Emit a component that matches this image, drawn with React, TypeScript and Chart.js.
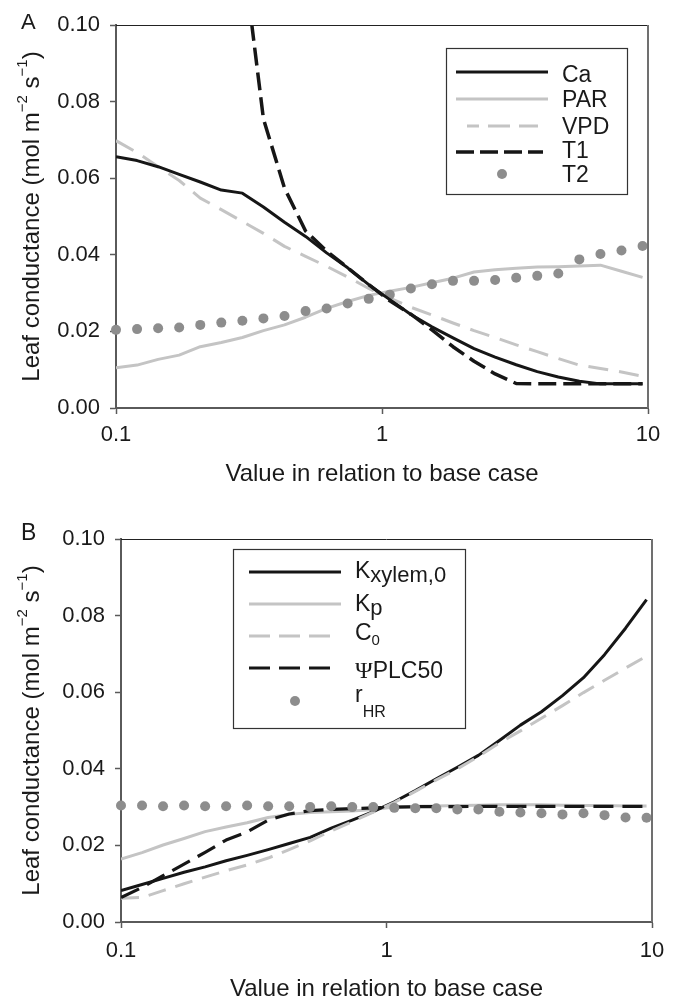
import React, { useEffect, useRef } from "react";
import { Chart, registerables } from "chart.js";

Chart.register(...registerables);

const FONT = "'Liberation Sans', Arial, Helvetica, sans-serif";
const SERIF = "'Liberation Serif', 'DejaVu Serif', serif";

// ---------- shared axis data ----------
const xValues = [
  0.1, 0.12, 0.144, 0.1728, 0.2074, 0.2488, 0.2986, 0.3583, 0.43, 0.516,
  0.6192, 0.743, 0.8916, 1.0699, 1.2839, 1.5407, 1.8488, 2.2186, 2.6623,
  3.1948, 3.8338, 4.6005, 5.5206, 6.6247, 7.9497, 9.5396,
];
const xTickValues = [0.1, 1, 10];
const yTickValues = [0, 0.02, 0.04, 0.06, 0.08, 0.1];
const xTitle = "Value in relation to base case";

// ---------- panel A series ----------
const caValues = [
  0.0656, 0.0646, 0.063, 0.061, 0.059, 0.0569, 0.0561, 0.0525, 0.0485, 0.0448,
  0.0405, 0.0366, 0.0322, 0.0283, 0.0244, 0.0212, 0.0183, 0.0155, 0.0133,
  0.0113, 0.0095, 0.0081, 0.007, 0.0063, 0.0063, 0.0063,
];
const parValues = [
  0.0105, 0.0112, 0.0127, 0.0138, 0.016, 0.0171, 0.0184, 0.0202, 0.0217, 0.0237,
  0.026, 0.0278, 0.0294, 0.0305, 0.0315, 0.0327, 0.0339, 0.0355, 0.0361,
  0.0365, 0.0368, 0.0369, 0.0371, 0.0373, 0.0357, 0.0341,
];
const vpdValues = [
  0.0698, 0.0667, 0.063, 0.0594, 0.0548, 0.0518, 0.0487, 0.0456, 0.0422, 0.0396,
  0.037, 0.0342, 0.0312, 0.0287, 0.0263, 0.0243, 0.0222, 0.0202, 0.0184,
  0.0165, 0.0147, 0.0129, 0.0112, 0.0103, 0.0094, 0.0083,
];
const t1Values: (number | null)[] = [
  null, null, null, null, null, null, 0.12, 0.0755, 0.0574, 0.0462,
  0.041, 0.0366, 0.0322, 0.028, 0.0245, 0.0204, 0.016, 0.0122, 0.0089,
  0.0064, 0.0063, 0.0063, 0.0063, 0.0063, 0.0063, 0.0063,
];
const t2Values = [
  0.0204, 0.0206, 0.0208, 0.021, 0.0217, 0.0223, 0.0228, 0.0234, 0.024, 0.0253,
  0.026, 0.0273, 0.0285, 0.0296, 0.0312, 0.0323, 0.0332, 0.0332, 0.0334,
  0.034, 0.0345, 0.0351, 0.0388, 0.0402, 0.0411, 0.0423,
];

// ---------- panel B series ----------
const kxylemValues = [
  0.0082, 0.0098, 0.0114, 0.013, 0.0144, 0.016, 0.0174, 0.0189, 0.0205, 0.0221,
  0.0245, 0.0266, 0.0288, 0.0314, 0.0343, 0.0374, 0.0404, 0.0435, 0.0474,
  0.0514, 0.0549, 0.0591, 0.0638, 0.0698, 0.0767, 0.0842,
];
const kpValues = [
  0.0164, 0.0181, 0.0201, 0.0218, 0.0236, 0.0248, 0.0259, 0.0273, 0.0281, 0.0286,
  0.0288, 0.029, 0.0294, 0.03, 0.0302, 0.0303, 0.0304, 0.0305, 0.0306,
  0.0306, 0.0306, 0.0305, 0.0304, 0.0304, 0.0303, 0.0303,
];
const c0Values = [
  0.0062, 0.0064, 0.0082, 0.01, 0.0117, 0.0134, 0.0149, 0.0167, 0.0189, 0.0212,
  0.0238, 0.0262, 0.0287, 0.0312, 0.0341, 0.0371, 0.04, 0.0432, 0.0468,
  0.0499, 0.0532, 0.0565, 0.0599, 0.0631, 0.0663, 0.0694,
];
const psiValues = [
  0.0064, 0.009, 0.0121, 0.0151, 0.0182, 0.0214, 0.0235, 0.0266, 0.0282, 0.0291,
  0.0294, 0.0296, 0.0298, 0.03, 0.0301, 0.0301, 0.0301, 0.0302, 0.0302,
  0.0302, 0.0302, 0.0302, 0.0302, 0.0302, 0.0302, 0.0302,
];
const rhrValues = [
  0.0304, 0.0304, 0.0302, 0.0304, 0.0302, 0.0302, 0.0304, 0.0302, 0.0302, 0.03,
  0.0302, 0.03, 0.03, 0.0298, 0.0297, 0.0297, 0.0294, 0.0294, 0.0288,
  0.0286, 0.0284, 0.0281, 0.0284, 0.0279, 0.0273, 0.0272,
];

// ---------- styling ----------
const BLACK = "#161616";
const LIGHT = "#c4c4c4";
const DOT = "#8d8d8d";
const AXIS = "#5a5a5a";
const TEXT = "#1a1a1a";

interface Seg { t: string; size: number; dy?: number; serif?: boolean }
interface Series {
  name: string;
  values: (number | null)[];
  kind: "line" | "dot";
  color: string;
  width?: number;
  dash?: number[];
  order: number;
  legend: Seg[];
  sampleFrom?: number;
  sampleTo?: number;
  sampleDash?: number[];
  sampleOffset?: number;
}
interface Panel {
  letter: string;
  letterSize: number;
  letterY: number;
  height: number;
  top: number;
  left: number;
  right: number;
  bottom: number;
  xTitlePad: number;
  xTickPad: number;
  yTitleX: number;
  box: [number, number, number, number];
  rows: number[];
  textBase: number[];
  lineFrom: number;
  lineTo: number;
  dotX: number;
  textX: number;
  series: Series[];
}

const yTitleParts: Seg[] = [
  { t: "Leaf conductance (mol m", size: 24 },
  { t: "\u22122", size: 15, dy: -12 },
  { t: " s", size: 24 },
  { t: "\u22121", size: 15, dy: -12 },
  { t: ")", size: 24 },
];

const panelA: Panel = {
  letter: "A",
  letterSize: 22,
  letterY: 29,
  height: 500,
  top: 25,
  left: 116,
  right: 648,
  bottom: 408,
  xTitlePad: 11,
  xTickPad: 8,
  yTitleX: 39,
  box: [446, 48, 627, 194],
  rows: [72, 99, 126, 152, 174],
  textBase: [82, 107, 134, 158, 182],
  lineFrom: 456,
  lineTo: 548,
  dotX: 502,
  textX: 562,
  series: [
    { name: "Ca", values: caValues, kind: "line", color: BLACK, width: 3, order: 2, legend: [{ t: "Ca", size: 23 }] },
    { name: "PAR", values: parValues, kind: "line", color: LIGHT, width: 3, order: 5, legend: [{ t: "PAR", size: 23 }] },
    { name: "VPD", values: vpdValues, kind: "line", color: LIGHT, width: 3, dash: [20, 11], order: 4, legend: [{ t: "VPD", size: 23 }], sampleFrom: 467, sampleTo: 538, sampleDash: [22, 9], sampleOffset: 10 },
    { name: "T1", values: t1Values, kind: "line", color: BLACK, width: 3.5, dash: [18, 7], order: 1, legend: [{ t: "T1", size: 23 }], sampleFrom: 456, sampleTo: 543, sampleDash: [18, 6] },
    { name: "T2", values: t2Values, kind: "dot", color: DOT, order: 3, legend: [{ t: "T2", size: 23 }] },
  ],
};

const panelB: Panel = {
  letter: "B",
  letterSize: 23,
  letterY: 40,
  height: 502,
  top: 39,
  left: 121,
  right: 652,
  bottom: 422,
  xTitlePad: -2,
  xTickPad: 10,
  yTitleX: 39,
  box: [233, 49, 465, 228],
  rows: [72, 104, 136, 168, 201],
  textBase: [78, 111, 140, 178, 202],
  lineFrom: 249,
  lineTo: 341,
  dotX: 295,
  textX: 355,
  series: [
    { name: "Kxylem,0", values: kxylemValues, kind: "line", color: BLACK, width: 3, order: 4, legend: [{ t: "K", size: 23 }, { t: "xylem,0", size: 22, dy: 4 }] },
    { name: "Kp", values: kpValues, kind: "line", color: LIGHT, width: 3, order: 5, legend: [{ t: "K", size: 23 }, { t: "p", size: 22, dy: 4 }] },
    { name: "C0", values: c0Values, kind: "line", color: LIGHT, width: 3, dash: [18, 10], order: 3, legend: [{ t: "C", size: 23 }, { t: "0", size: 15, dy: 5 }], sampleFrom: 249, sampleTo: 330, sampleDash: [21, 9] },
    { name: "PsiPLC50", values: psiValues, kind: "line", color: BLACK, width: 3.2, dash: [20, 9], order: 2, legend: [{ t: "\u03A8", size: 24, serif: true }, { t: "PLC50", size: 23 }], sampleFrom: 249, sampleTo: 330, sampleDash: [21, 9] },
    { name: "rHR", values: rhrValues, kind: "dot", color: DOT, order: 1, legend: [{ t: "r", size: 23 }, { t: "HR", size: 16, dy: 15 }] },
  ],
};

function drawSegs(ctx: CanvasRenderingContext2D, segs: Seg[], x: number, y: number, center: boolean) {
  let total = 0;
  for (const s of segs) {
    ctx.font = `${s.size}px ${s.serif ? SERIF : FONT}`;
    total += ctx.measureText(s.t).width;
  }
  let cx = center ? x - total / 2 : x;
  for (const s of segs) {
    ctx.font = `${s.size}px ${s.serif ? SERIF : FONT}`;
    ctx.fillText(s.t, cx, y + (s.dy || 0));
    cx += ctx.measureText(s.t).width;
  }
}

function decorPlugin(p: Panel) {
  return {
    id: "decor" + p.letter,
    afterDraw(chart: any) {
      const ctx: CanvasRenderingContext2D = chart.ctx;
      const a = chart.chartArea;
      ctx.save();
      ctx.setLineDash([]);
      // frame top & right
      ctx.strokeStyle = "#222";
      ctx.lineWidth = 1;
      ctx.beginPath();
      ctx.moveTo(a.left, a.top + 0.5);
      ctx.lineTo(a.right, a.top + 0.5);
      ctx.stroke();
      ctx.strokeStyle = "#707070";
      ctx.lineWidth = 2;
      ctx.beginPath();
      ctx.moveTo(a.right, a.top);
      ctx.lineTo(a.right, a.bottom);
      ctx.stroke();

      ctx.fillStyle = TEXT;
      ctx.textBaseline = "alphabetic";
      ctx.textAlign = "left";

      // y title
      ctx.save();
      ctx.translate(p.yTitleX, (a.top + a.bottom) / 2);
      ctx.rotate(-Math.PI / 2);
      drawSegs(ctx, yTitleParts, 0, 0, true);
      ctx.restore();

      // panel letter
      ctx.font = `${p.letterSize}px ${FONT}`;
      ctx.fillText(p.letter, 21, p.letterY);

      // legend
      const [bx1, by1, bx2, by2] = p.box;
      ctx.fillStyle = "#ffffff";
      ctx.fillRect(bx1, by1, bx2 - bx1, by2 - by1);
      ctx.strokeStyle = "#333";
      ctx.lineWidth = 1.2;
      ctx.strokeRect(bx1 + 0.5, by1 + 0.5, bx2 - bx1, by2 - by1);
      p.series.forEach((s, i) => {
        const ry = p.rows[i];
        if (s.kind === "line") {
          ctx.strokeStyle = s.color;
          ctx.lineWidth = s.width || 3;
          ctx.setLineDash(s.sampleDash || []);
          ctx.lineDashOffset = s.sampleOffset || 0;
          ctx.beginPath();
          ctx.moveTo(s.sampleFrom ?? p.lineFrom, ry);
          ctx.lineTo(s.sampleTo ?? p.lineTo, ry);
          ctx.stroke();
          ctx.setLineDash([]);
          ctx.lineDashOffset = 0;
        } else {
          ctx.fillStyle = s.color;
          ctx.beginPath();
          ctx.arc(p.dotX, ry, 5, 0, Math.PI * 2);
          ctx.fill();
        }
        ctx.fillStyle = TEXT;
        drawSegs(ctx, s.legend, p.textX, p.textBase[i], false);
      });
      ctx.restore();
    },
  };
}

function makeConfig(p: Panel): any {
  const datasets = p.series.map((s) => {
    const data = s.values.map((v, i) => ({ x: xValues[i], y: v }));
    if (s.kind === "line") {
      return {
        label: s.name,
        data,
        borderColor: s.color,
        backgroundColor: s.color,
        borderWidth: s.width,
        borderDash: s.dash || [],
        pointRadius: 0,
        pointHoverRadius: 0,
        fill: false,
        tension: 0,
        order: s.order,
        clip: 0,
        borderCapStyle: "butt",
        borderJoinStyle: "round",
      };
    }
    return {
      label: s.name,
      data,
      showLine: false,
      borderColor: s.color,
      backgroundColor: s.color,
      pointBackgroundColor: s.color,
      pointBorderColor: s.color,
      pointBorderWidth: 0,
      pointRadius: 5,
      pointHoverRadius: 5,
      order: s.order,
      clip: false,
    };
  });
  return {
    type: "line",
    data: { datasets },
    options: {
      animation: false,
      responsive: false,
      maintainAspectRatio: false,
      devicePixelRatio: 1,
      events: [],
      layout: { padding: { top: p.top, left: 0, right: 677 - p.right, bottom: 0 } },
      plugins: { legend: { display: false }, tooltip: { enabled: false }, title: { display: false } },
      scales: {
        x: {
          type: "logarithmic",
          min: 0.1,
          max: 10,
          afterBuildTicks: (sc: any) => {
            sc.ticks = xTickValues.map((v) => ({ value: v, major: false }));
          },
          afterFit: (sc: any) => {
            sc.height = p.height - p.bottom;
          },
          ticks: {
            autoSkip: false,
            maxRotation: 0,
            padding: p.xTickPad,
            color: TEXT,
            font: { size: 22, family: FONT },
            callback: (v: any) => String(Number(v)),
          },
          grid: { display: true, drawOnChartArea: false, drawTicks: true, tickLength: 6, tickColor: AXIS, tickWidth: 1.5 },
          border: { display: true, color: AXIS, width: 2 },
          title: {
            display: true,
            text: xTitle,
            color: TEXT,
            font: { size: 24, family: FONT },
            padding: { top: 0, bottom: p.xTitlePad },
          },
        },
        y: {
          type: "linear",
          min: 0,
          max: 0.1,
          afterBuildTicks: (sc: any) => {
            sc.ticks = yTickValues.map((v) => ({ value: v }));
          },
          afterFit: (sc: any) => {
            sc.width = p.left;
          },
          ticks: {
            padding: 10,
            color: TEXT,
            font: { size: 22, family: FONT },
            callback: (v: any) => Number(v).toFixed(2),
          },
          grid: { display: true, drawOnChartArea: false, drawTicks: true, tickLength: 6, tickColor: AXIS, tickWidth: 1.5 },
          border: { display: true, color: AXIS, width: 2 },
          title: { display: false },
        },
      },
    },
    plugins: [decorPlugin(p)],
  };
}

function PanelChart({ panel, top }: { panel: Panel; top: number }) {
  const ref = useRef<HTMLCanvasElement | null>(null);
  useEffect(() => {
    if (!ref.current) return;
    const chart = new Chart(ref.current, makeConfig(panel));
    return () => chart.destroy();
  }, [panel]);
  return (
    <canvas
      ref={ref}
      width={677}
      height={panel.height}
      style={{ position: "absolute", left: 0, top, width: 677, height: panel.height, display: "block" }}
    />
  );
}

export default function App() {
  return (
    <div style={{ position: "absolute", left: 0, top: 0, width: 677, height: 1002, background: "#ffffff", overflow: "hidden" }}>
      <PanelChart panel={panelA} top={0} />
      <PanelChart panel={panelB} top={500} />
    </div>
  );
}
